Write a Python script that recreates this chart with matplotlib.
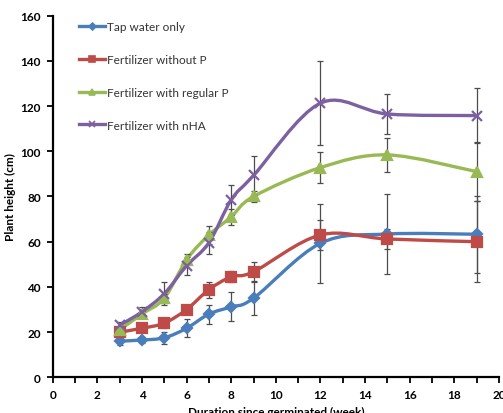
import matplotlib
matplotlib.use('Agg')
import matplotlib.pyplot as plt
import numpy as np
from matplotlib.path import Path
from matplotlib.patches import PathPatch
from matplotlib.lines import Line2D

plt.rcParams['font.family'] = ['Lato', 'DejaVu Sans']

weeks = [3, 4, 5, 6, 7, 8, 9, 12, 15, 19]

tap_water = [16, 16.5, 17.5, 21.7, 28, 31.2, 35, 59.3, 63.4, 63.3]
tap_water_err = [1.5, 1.5, 2.7, 4, 4.2, 6.5, 7.5, 17.5, 17.7, 17]

no_p = [20, 21.7, 24, 30, 38.8, 44.5, 46.7, 63, 61.2, 60]
no_p_err = [1.5, 1, 2, 1.5, 3.5, 2.5, 4.5, 6.5, 4.5, 18]

regular_p = [21, 28, 35, 52, 63, 71, 80, 92.8, 98.4, 91]
regular_p_err = [1.5, 1.5, 2, 2.5, 4, 3.5, 2.5, 6.7, 7.5, 13]

nha = [23, 29, 37, 49.4, 59.5, 78.5, 89.3, 121.3, 116.5, 115.8]
nha_err = [1.5, 2, 5, 4, 5, 6.5, 8.5, 18.5, 9, 12]

labels = ['Tap water only', 'Fertilizer without P',
          'Fertilizer with regular P', 'Fertilizer with nHA']
colors = ['#4a7ebb', '#be4b48', '#98b954', '#7d60a0']
markers = ['D', 's', '^', 'x']
msizes = [5, 6.5, 6.5, 7]


def smooth_path(x, y):
    # Excel-style smoothed line: Catmull-Rom segments as cubic Beziers
    pts = np.column_stack([x, y]).astype(float)
    ext = np.vstack([pts[0], pts, pts[-1]])
    verts = [pts[0]]
    codes = [Path.MOVETO]
    for i in range(1, len(ext) - 2):
        p0, p1, p2, p3 = ext[i - 1], ext[i], ext[i + 1], ext[i + 2]
        c1 = p1 + (p2 - p0) / 6.0
        c2 = p2 - (p3 - p1) / 6.0
        verts += [c1, c2, p2]
        codes += [Path.CURVE4] * 3
    return Path(verts, codes)


fig = plt.figure(figsize=(5.03, 4.14), dpi=100)
ax = fig.add_axes([0.1048, 0.0862, 0.8872, 0.8735])

series = [(tap_water, tap_water_err), (no_p, no_p_err),
          (regular_p, regular_p_err), (nha, nha_err)]

handles = []
for (vals, errs), lab, col, mk, ms in zip(series, labels, colors, markers, msizes):
    ax.add_patch(PathPatch(smooth_path(weeks, vals), fill=False,
                           edgecolor=col, lw=2.4, zorder=2,
                           capstyle='round', joinstyle='round'))
    ax.errorbar(weeks, vals, yerr=errs, fmt='none', ecolor='#4d4d4d',
                elinewidth=0.9, capsize=2.5, capthick=0.9, zorder=3)
    ax.plot(weeks, vals, linestyle='none', marker=mk, color=col,
            markersize=ms, mew=1.6, zorder=4)
    handles.append(Line2D([], [], color=col, lw=2.4, marker=mk,
                          markersize=ms * 0.7, mew=1.2))

ax.set_xlim(0, 20)
ax.set_ylim(0, 160)
ax.set_xticks(range(0, 21, 2))
ax.set_xticks(range(1, 20, 2), minor=True)
ax.set_yticks(range(0, 161, 20))

for s in ['top', 'right']:
    ax.spines[s].set_visible(False)
for s in ['left', 'bottom']:
    ax.spines[s].set_linewidth(1.6)
    ax.spines[s].set_color('black')

ax.tick_params(axis='both', which='both', direction='out', width=1.3,
               length=4.5, labelsize=8.5, pad=4)
for t in ax.get_xticklabels() + ax.get_yticklabels():
    t.set_fontweight('bold')

ax.set_xlabel('Duration since germinated (week)', fontsize=8.5,
              fontweight='bold', labelpad=4)
ax.set_ylabel('Plant height (cm)', fontsize=8.5, fontweight='bold',
              labelpad=3)

ax.legend(handles, labels, loc='upper left', bbox_to_anchor=(0.06, 0.985),
          frameon=False, fontsize=8.5, handlelength=2.2, handletextpad=0.1,
          labelspacing=1.85, borderpad=0, borderaxespad=0,
          labelcolor='#333333')

fig.savefig('out.png', dpi=100)
